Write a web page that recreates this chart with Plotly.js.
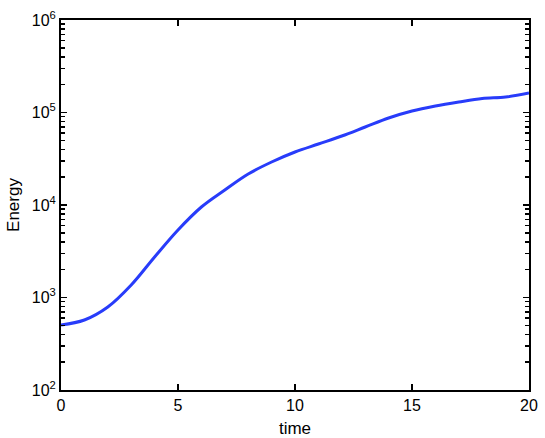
<!DOCTYPE html>
<html>
<head>
<meta charset="utf-8">
<script src="https://cdn.plot.ly/plotly-3.0.1.min.js"></script>
<style>
  body { margin: 0; background: #fff; }
  #plot { width: 545px; height: 438px; }
</style>
</head>
<body>
<div id="plot"></div>
<script>
// values
var time = [0, 1, 2, 3, 4, 5, 6, 7, 8, 9, 10, 11, 12, 13, 14, 15, 16, 17, 18, 19, 20];
var energy = [504, 571, 789, 1365, 2741, 5367, 9515, 14530, 21630, 29160, 37410, 45640, 55700, 69680, 87200, 103800, 117600, 129900, 141700, 147100, 162500];

var xTicks = [0, 5, 10, 15, 20];
var yTicks = [100, 1000, 10000, 100000, 1000000];
var yTickText = ["10<sup>2</sup>", "10<sup>3</sup>", "10<sup>4</sup>", "10<sup>5</sup>", "10<sup>6</sup>"];
var yMinorTicks = [];
[100, 1000, 10000, 100000].forEach(function (d) {
  for (var k = 2; k <= 9; k++) yMinorTicks.push(k * d);
});

var trace = {
  x: time,
  y: energy,
  type: "scatter",
  mode: "lines",
  line: {color: "rgb(40,60,250)", width: 3, shape: "spline"},
  hoverinfo: "none"
};
// invisible copy on a second axis, only there to draw the minor ticks
var minorTrace = {
  x: time, y: energy, type: "scatter", mode: "lines",
  yaxis: "y2", opacity: 0, line: {width: 0}, hoverinfo: "none"
};

function mkFont(size) {
  return {family: "Liberation Sans, Arial, sans-serif", size: size, color: "#000"};
}

var layout = {
  width: 545,
  height: 438,
  margin: {l: 61, r: 16, t: 20, b: 48},
  paper_bgcolor: "#fff",
  plot_bgcolor: "#fff",
  showlegend: false,
  font: mkFont(16),
  xaxis: {
    range: [0, 20],
    tickvals: xTicks,
    tickfont: mkFont(16),
    ticks: "inside",
    ticklen: 6,
    tickwidth: 1.5,
    tickcolor: "#000",
    showline: true,
    linecolor: "#000",
    linewidth: 2,
    mirror: "ticks",
    showgrid: false,
    zeroline: false,
    title: {text: "time", font: mkFont(17), standoff: 9}
  },
  yaxis: {
    type: "log",
    range: [2, 6],
    tickmode: "array",
    tickvals: yTicks,
    ticktext: yTickText,
    tickfont: mkFont(16),
    ticks: "inside",
    ticklen: 6,
    tickwidth: 1.5,
    tickcolor: "#000",
    showline: true,
    linecolor: "#000",
    linewidth: 2,
    mirror: "ticks",
    showgrid: false,
    zeroline: false,
    title: {text: "Energy", font: mkFont(17), standoff: 8}
  },
  yaxis2: {
    type: "log",
    range: [2, 6],
    overlaying: "y",
    anchor: "x",
    side: "left",
    tickmode: "array",
    tickvals: yMinorTicks,
    showticklabels: false,
    ticks: "inside",
    ticklen: 4,
    tickwidth: 1.5,
    tickcolor: "#000",
    showline: true,
    linecolor: "#000",
    linewidth: 2,
    mirror: "ticks",
    showgrid: false,
    zeroline: false
  }
};

Plotly.newPlot("plot", [trace, minorTrace], layout, {staticPlot: true});
</script>
</body>
</html>
